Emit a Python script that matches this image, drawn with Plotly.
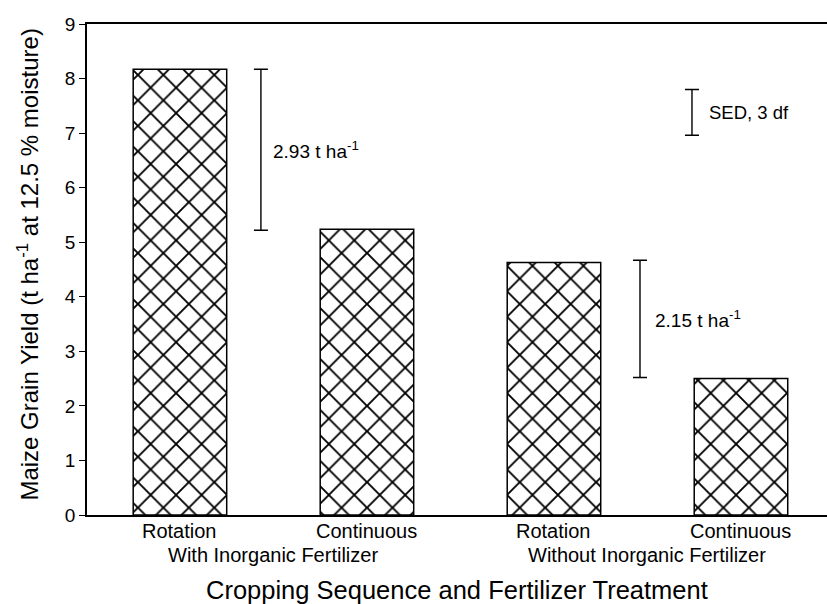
import plotly.graph_objects as go

# Data
sequences = ["Rotation", "Continuous", "Rotation", "Continuous"]
groups = ["With Inorganic Fertilizer", "Without Inorganic Fertilizer"]
yields = [8.17, 5.24, 4.63, 2.50]
y_ticks = [0, 1, 2, 3, 4, 5, 6, 7, 8, 9]

# Difference bars
diff_x = [0.433, 2.46]
diff_low = [5.22, 2.52]
diff_high = [8.17, 4.67]
diff_labels = ["2.93 t ha<sup>-1</sup>", "2.15 t ha<sup>-1</sup>"]
sed_x = [2.738]
sed_low = [6.96]
sed_high = [7.80]
sed_label = "SED, 3 df"

FONT = "Liberation Sans"
xpos = list(range(len(sequences)))

fig = go.Figure()
fig.add_trace(go.Bar(
    x=xpos, y=yields, width=0.5,
    marker=dict(color="white", line=dict(color="black", width=1.5),
                pattern=dict(shape="x", fgcolor="black", bgcolor="white", fgopacity=1,
                             size=18, solidity=0.2, fillmode="replace")),
    showlegend=False, hoverinfo="skip"))

def vbar(xs, lows, highs):
    mids = [(l + h) / 2 for l, h in zip(lows, highs)]
    errs = [(h - l) / 2 for l, h in zip(lows, highs)]
    fig.add_trace(go.Scatter(
        x=xs, y=mids, mode="markers", marker=dict(size=0.1, color="black", opacity=0),
        error_y=dict(type="data", array=errs, visible=True, color="black",
                     thickness=1.4, width=7),
        showlegend=False, hoverinfo="skip"))

vbar(diff_x, diff_low, diff_high)
vbar(sed_x, sed_low, sed_high)

for x, l, h, t, xs in zip(diff_x, diff_low, diff_high, diff_labels, [10, 13]):
    fig.add_annotation(x=x, y=(l + h) / 2, text=t, showarrow=False,
                       xanchor="left", yanchor="middle", xshift=xs,
                       font=dict(family=FONT, size=19, color="black"))
fig.add_annotation(x=sed_x[0], y=(sed_low[0] + sed_high[0]) / 2, text=sed_label,
                   showarrow=False, xanchor="left", yanchor="middle", xshift=15,
                   font=dict(family=FONT, size=18.5, color="black"))

for i, s in enumerate(sequences):
    fig.add_annotation(x=xpos[i], y=0, text=s, showarrow=False,
                       xanchor="center", yanchor="middle", yshift=-16,
                       font=dict(family=FONT, size=20, color="black"))

for i, g in enumerate(groups):
    fig.add_annotation(x=2 * i + 0.5, y=0, text=g, showarrow=False,
                       xanchor="center", yanchor="middle", yshift=-40,
                       font=dict(family=FONT, size=20, color="black"))

fig.add_annotation(x=0.5, xref="paper", y=0, yref="paper", yshift=-75,
                   text="Cropping Sequence and Fertilizer Treatment", showarrow=False,
                   xanchor="center", yanchor="middle",
                   font=dict(family=FONT, size=25.5, color="black"))
fig.add_annotation(x=0, xref="paper", xshift=-59, y=0.51, yref="paper",
                   text="Maize Grain Yield (t ha<sup>-1</sup> at 12.5 % moisture)",
                   showarrow=False, textangle=-90, xanchor="center", yanchor="middle",
                   font=dict(family=FONT, size=24, color="black"))

fig.update_layout(
    width=827, height=604,
    margin=dict(l=87, r=0, t=24, b=89),
    paper_bgcolor="white", plot_bgcolor="white",
    font=dict(family=FONT, color="black"),
    xaxis=dict(range=[-0.497, 3.46], tickvals=xpos, showticklabels=False,
               showgrid=False, zeroline=False, showline=True, linecolor="black",
               linewidth=1.5, mirror=True, ticks="", automargin=False),
    yaxis=dict(range=[0, 9], tickvals=y_ticks, showgrid=False, zeroline=False,
               showline=True, linecolor="black", linewidth=1.5,
               ticks="outside", ticklen=6, tickcolor="black", tickwidth=1,
               tickfont=dict(family=FONT, size=19), automargin=False),
)

fig.write_html("out.html", config={"displayModeBar": False},
               post_script="document.body.style.margin='0px';document.body.style.overflow='hidden';")
